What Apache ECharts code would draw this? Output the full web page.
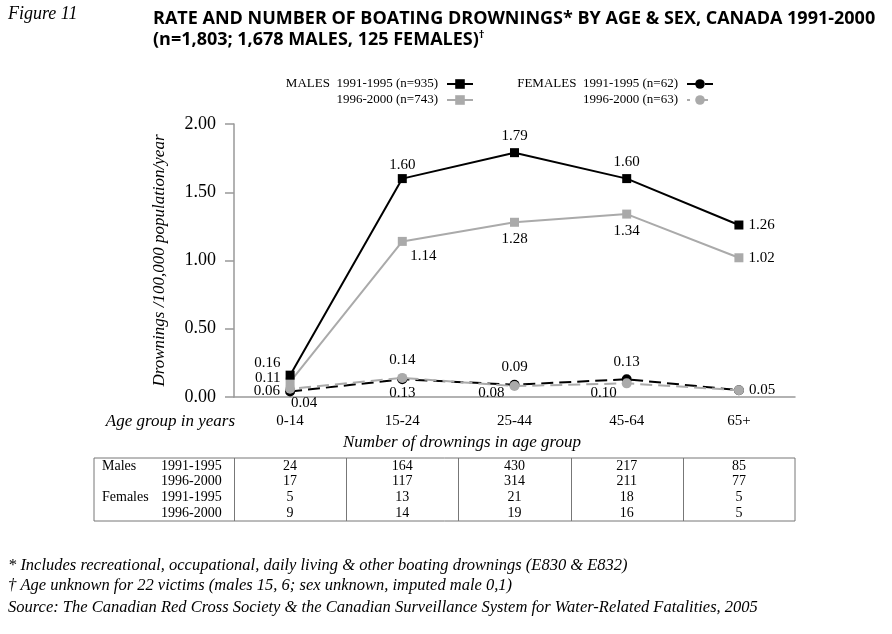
<!DOCTYPE html>
<html>
<head>
<meta charset="utf-8">
<script src="https://cdn.jsdelivr.net/npm/echarts@6/dist/echarts.min.js"></script>
<style>
html,body{margin:0;padding:0;background:#fff;}
#c{width:892px;height:634px;}
</style>
</head>
<body>
<div id="c"></div>
<script>
// ---- data ----
const categories = ['0-14', '15-24', '25-44', '45-64', '65+'];
const males9195 = [0.16, 1.60, 1.79, 1.60, 1.26];
const males9600 = [0.11, 1.14, 1.28, 1.34, 1.02];
const females9195 = [0.04, 0.13, 0.09, 0.13, 0.05];
const females9600 = [0.06, 0.14, 0.08, 0.10, 0.05];
const yTickValues = [0, 0.5, 1.0, 1.5, 2.0];

const seriesNames = ['MALES  1991-1995 (n=935)', '1996-2000 (n=743)', 'FEMALES  1991-1995 (n=62)', '1996-2000 (n=63)'];

const tableSex = ['Males', '', 'Females', ''];
const tablePeriod = ['1991-1995', '1996-2000', '1991-1995', '1996-2000'];
const countMales9195 = [24, 164, 430, 217, 85];
const countMales9600 = [17, 117, 314, 211, 77];
const countFemales9195 = [5, 13, 21, 18, 5];
const countFemales9600 = [9, 14, 19, 16, 5];

// ---- label placement (style only) ----
const posM9195 = [['left', [0, -12]], ['top', [0, 3]], ['top', [0, 0]], ['top', [0, 0]], ['right', [0, 0]]];
const posM9600 = [['left', [0, -4]], ['bottom', [21, -2]], ['bottom', [0, 0]], ['bottom', [0, 0]], ['right', [0, 0]]];
const posF9195 = [['bottom', [14, -6]], ['bottom', [0, -4]], ['top', [0, 0]], ['top', [0, 0]], null];
const posF9600 = [['left', [0, 2]], ['top', [0, 0]], ['left', [0, 7]], ['left', [0, 10]], ['right', [0, 0]]];

const SERIF = '"Liberation Serif", "DejaVu Serif", serif';
const SANS = '"Open Sans", "Noto Sans", sans-serif';
const GRAY = '#aaaaaa';

function mkData(values, pos) {
  return values.map((v, i) => {
    const p = pos[i];
    if (!p) return { value: v, label: { show: false } };
    return { value: v, label: { show: true, position: p[0], offset: p[1] } };
  });
}

const gridLeft = 234, gridRight = 97, gridTop = 124, gridBottom = 237;
const W = 892;
const band = (W - gridLeft - gridRight) / categories.length;

const labelStyle = {
  show: true, color: '#000', fontFamily: SERIF, fontSize: 15,
  formatter: p => p.value.toFixed(2)
};

// ---- table graphics ----
const tableTop = 458, rowH = 15.75, tableLeft = 94, tableRight = W - gridRight;
const tableCounts = [countMales9195, countMales9600, countFemales9195, countFemales9600];
const graphics = [];
graphics.push({ type: 'rect', shape: { x: tableLeft, y: tableTop, width: tableRight - tableLeft, height: rowH * 4 },
  style: { fill: 'none', stroke: '#777', lineWidth: 1 } });
for (let k = 0; k < categories.length; k++) {
  const x = Math.round(gridLeft + band * k) + 0.5;
  graphics.push({ type: 'line', shape: { x1: x, y1: tableTop, x2: x, y2: tableTop + rowH * 4 },
    style: { stroke: '#777', lineWidth: 1 } });
}
for (let r = 0; r < 4; r++) {
  const yc = tableTop + rowH * (r + 0.5);
  if (tableSex[r]) graphics.push({ type: 'text', x: 102, y: yc,
    style: { text: tableSex[r], font: '14px ' + SERIF, fill: '#000', textAlign: 'left', textVerticalAlign: 'middle' } });
  graphics.push({ type: 'text', x: 161, y: yc,
    style: { text: tablePeriod[r], font: '14px ' + SERIF, fill: '#000', textAlign: 'left', textVerticalAlign: 'middle' } });
  for (let k = 0; k < categories.length; k++) {
    graphics.push({ type: 'text', x: gridLeft + band * (k + 0.5), y: yc,
      style: { text: String(tableCounts[r][k]), font: '14px ' + SERIF, fill: '#000', textAlign: 'center', textVerticalAlign: 'middle' } });
  }
}
// other texts
graphics.push({ type: 'text', x: 8, y: 14, style: { text: 'Figure 11', font: 'italic 18px ' + SERIF, fill: '#000', textAlign: 'left', textVerticalAlign: 'middle' } });
graphics.push({ type: 'text', x: 235, y: 422, style: { text: 'Age group in years', font: 'italic 17px ' + SERIF, fill: '#000', textAlign: 'right', textVerticalAlign: 'middle' } });
graphics.push({ type: 'text', x: 462, y: 443, style: { text: 'Number of drownings in age group', font: 'italic 17px ' + SERIF, fill: '#000', textAlign: 'center', textVerticalAlign: 'middle' } });
graphics.push({ type: 'text', x: 8, y: 566, style: { text: '* Includes recreational, occupational, daily living & other boating drownings (E830 & E832)', font: 'italic 16.5px ' + SERIF, fill: '#000', textAlign: 'left', textVerticalAlign: 'middle' } });
graphics.push({ type: 'text', x: 8, y: 586, style: { text: '\u2020 Age unknown for 22 victims (males 15, 6; sex unknown, imputed male 0,1)', font: 'italic 16.5px ' + SERIF, fill: '#000', textAlign: 'left', textVerticalAlign: 'middle' } });
graphics.push({ type: 'text', x: 8, y: 608, style: { text: 'Source: The Canadian Red Cross Society & the Canadian Surveillance System for Water-Related Fatalities, 2005', font: 'italic 16.5px ' + SERIF, fill: '#000', textAlign: 'left', textVerticalAlign: 'middle' } });

const legendCommon = {
  orient: 'vertical', align: 'right', top: 72, itemWidth: 26, itemHeight: 12, itemGap: 2,
  selectedMode: false,
  textStyle: { fontFamily: SERIF, fontSize: 13, color: '#000', lineHeight: 14, padding: [0, 4, 0, 0] }
};

const chart = echarts.init(document.getElementById('c'), null, { renderer: 'canvas' });
chart.setOption({
  animation: false,
  backgroundColor: '#fff',
  title: {
    left: 148, top: 3,
    text: 'RATE AND NUMBER OF BOATING DROWNINGS* BY AGE & SEX, CANADA 1991-2000\n(n=1,803; 1,678 MALES, 125 FEMALES){s|\u2020}',
    textStyle: { fontFamily: SANS, fontWeight: 'bold', fontSize: 18, color: '#000', lineHeight: 21,
      rich: { s: { fontFamily: SANS, fontSize: 11, fontWeight: 'bold', color: '#000', verticalAlign: 'top', lineHeight: 21 } } }
  },
  legend: [
    Object.assign({}, legendCommon, { right: W - 479, data: [seriesNames[0], seriesNames[1]] }),
    Object.assign({}, legendCommon, { right: W - 719, data: [seriesNames[2], seriesNames[3]] })
  ],
  grid: { left: gridLeft, right: gridRight, top: gridTop, bottom: gridBottom, containLabel: false },
  xAxis: {
    type: 'category', data: categories, boundaryGap: true,
    axisLine: { show: true, lineStyle: { color: '#999', width: 1.5 } },
    axisTick: { show: false },
    axisLabel: { color: '#000', fontFamily: SERIF, fontSize: 15, margin: 17 }
  },
  yAxis: {
    type: 'value', min: yTickValues[0], max: yTickValues[yTickValues.length - 1], interval: 0.5,
    name: 'Drownings /100,000 population/year', nameLocation: 'middle', nameGap: 66,
    nameTextStyle: { fontFamily: SERIF, fontStyle: 'italic', fontSize: 17, color: '#000' },
    axisLine: { show: true, lineStyle: { color: '#999', width: 1.5 } },
    axisTick: { show: true, inside: false, length: 9, lineStyle: { color: '#999', width: 1.5 } },
    splitLine: { show: false },
    axisLabel: { color: '#000', fontFamily: SERIF, fontSize: 18, margin: 18, formatter: v => v.toFixed(2) }
  },
  series: [
    { name: seriesNames[2], type: 'line', data: mkData(females9195, posF9195), symbol: 'circle', symbolSize: 10,
      itemStyle: { color: '#000' }, lineStyle: { color: '#000', width: 2, type: [12, 6] }, label: labelStyle, z: 3 },
    { name: seriesNames[3], type: 'line', data: mkData(females9600, posF9600), symbol: 'circle', symbolSize: 10,
      itemStyle: { color: GRAY }, lineStyle: { color: GRAY, width: 2, type: [12, 6], dashOffset: 9 }, label: labelStyle, z: 4 },
    { name: seriesNames[1], type: 'line', data: mkData(males9600, posM9600), symbol: 'rect', symbolSize: 9,
      itemStyle: { color: GRAY }, lineStyle: { color: GRAY, width: 2 }, label: labelStyle, z: 5 },
    { name: seriesNames[0], type: 'line', data: mkData(males9195, posM9195), symbol: 'rect', symbolSize: 9,
      itemStyle: { color: '#000' }, lineStyle: { color: '#000', width: 2 }, label: labelStyle, z: 6 }
  ],
  graphic: graphics
});
</script>
</body>
</html>
